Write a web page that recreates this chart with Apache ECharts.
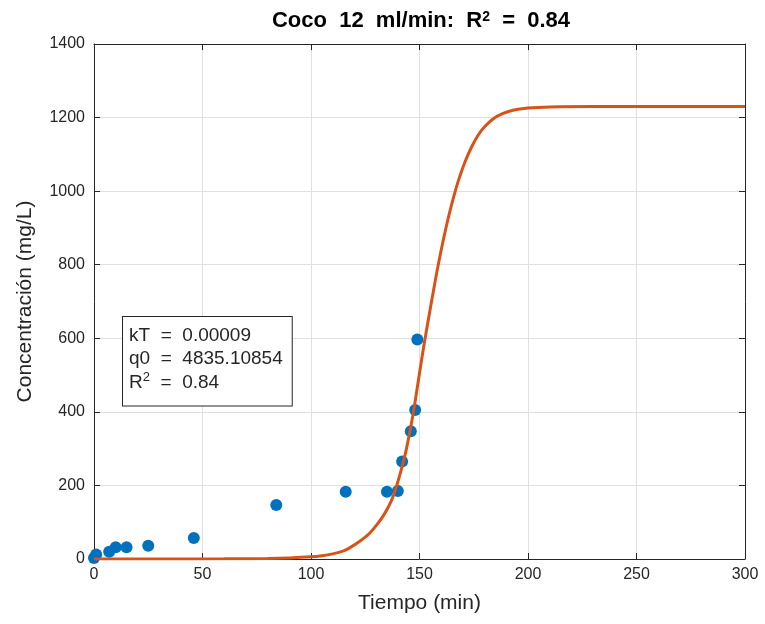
<!DOCTYPE html>
<html>
<head>
<meta charset="utf-8">
<script src="https://cdn.jsdelivr.net/npm/echarts@6/dist/echarts.min.js"></script>
<style>html,body{margin:0;padding:0;background:#fff;}#c{width:765px;height:624px;}</style>
</head>
<body>
<div id="c"></div>
<script>
// Measured data points (time in min, concentration in mg/L)
const obsTime = [0, 1, 7, 10, 15, 25, 46, 84, 116, 135, 140, 142, 146, 148, 149];
const obsConc = [3, 12, 20, 32, 32, 36, 57, 147, 183, 183, 185, 265, 347, 405, 597];

// Fitted curve
const fitTime = [0, 30, 60, 80, 90, 100, 105, 110, 115, 118, 122, 127, 131, 134, 137, 139.5, 142, 144, 147, 150, 152, 154, 156, 158, 160, 162, 164, 166, 168, 171, 174, 177, 180, 184, 188, 193, 200, 210, 230, 260, 300];
const fitConc = [0, 0, 0.5, 1.5, 3, 6, 9, 14, 22, 31, 46, 70, 98, 124, 158, 200, 252, 300, 392, 505, 580, 648, 715, 780, 840, 895, 945, 990, 1030, 1080, 1120, 1152, 1175, 1197, 1210, 1220, 1226, 1229, 1230, 1230, 1230];

const xTicks = [0, 50, 100, 150, 200, 250, 300];
const yTicks = [0, 200, 400, 600, 800, 1000, 1200, 1400];

const titleText = 'Coco  12  ml/min:  R{sup|2}  =  0.84';
const boxLines = ['kT  =  0.00009', 'q0  =  4835.10854', 'R{sup|2}  =  0.84'];

const axisColor = '#262626';
const gridColor = '#e0e0e0';
const font = "'Liberation Sans', Arial, Helvetica, sans-serif";

const chart = echarts.init(document.getElementById('c'), null, {renderer: 'canvas'});

function valAxis(pos, min, max, interval, showLabel, extra) {
  return Object.assign({
    type: 'value', position: pos, min: min, max: max, interval: interval,
    axisLine: {show: true, onZero: false, lineStyle: {color: axisColor, width: 1}},
    axisTick: {show: true, inside: true, length: 6, lineStyle: {color: axisColor, width: 1}},
    axisLabel: {show: showLabel, color: axisColor, fontSize: 16, fontFamily: font},
    splitLine: {show: showLabel, lineStyle: {color: gridColor, width: 1}}
  }, extra || {});
}

const option = {
  backgroundColor: '#ffffff',
  animation: false,
  title: {
    text: titleText,
    left: 421, top: 10, padding: 0,
    textAlign: 'center',
    textStyle: {
      color: '#000000', fontSize: 22, fontWeight: 'bold', fontFamily: font,
      rich: {sup: {fontSize: 14, fontWeight: 'bold', verticalAlign: 'top', color: '#000', fontFamily: font}}
    }
  },
  grid: {left: 94, right: 20, top: 44, bottom: 65, containLabel: false},
  xAxis: [
    valAxis('bottom', xTicks[0], xTicks[xTicks.length - 1], 50, true, {
      name: 'Tiempo (min)', nameLocation: 'middle', nameGap: 34,
      nameTextStyle: {color: axisColor, fontSize: 21, fontFamily: font},
      axisLabel: {show: true, color: axisColor, fontSize: 16, fontFamily: font, margin: 8,
        formatter: v => String(v)}
    }),
    valAxis('top', xTicks[0], xTicks[xTicks.length - 1], 50, false)
  ],
  yAxis: [
    valAxis('left', yTicks[0], yTicks[yTicks.length - 1], 200, true, {
      name: 'Concentración (mg/L)', nameLocation: 'middle', nameGap: 58,
      nameTextStyle: {color: axisColor, fontSize: 21, fontFamily: font},
      axisLabel: {show: true, color: axisColor, fontSize: 16, fontFamily: font, margin: 9,
        formatter: v => String(v)}
    }),
    valAxis('right', yTicks[0], yTicks[yTicks.length - 1], 200, false)
  ],
  graphic: [{
    type: 'text',
    left: 122, top: 316, z: 100,
    style: {
      text: boxLines.join('\n'),
      fill: axisColor,
      font: '19px ' + font,
      lineHeight: 23.5,
      backgroundColor: '#ffffff',
      borderColor: axisColor,
      borderWidth: 1,
      padding: [7, 9, 11, 6],
      rich: {
        sup: {fontSize: 13, verticalAlign: 'top', fill: axisColor, fontFamily: font, lineHeight: 23.5}
      }
    }
  }],
  series: [
    {
      type: 'scatter',
      xAxisIndex: 0, yAxisIndex: 0,
      data: obsTime.map((t, i) => [t, obsConc[i]]),
      symbol: 'circle', symbolSize: 12,
      itemStyle: {color: '#0072BD', opacity: 1},
      clip: false, z: 2
    },
    {
      type: 'line',
      xAxisIndex: 0, yAxisIndex: 0,
      data: fitTime.map((t, i) => [t, fitConc[i]]),
      showSymbol: false, symbol: 'none', smooth: 0.3,
      lineStyle: {color: '#D95319', width: 3},
      clip: true, z: 3
    }
  ]
};
chart.setOption(option);
</script>
</body>
</html>
